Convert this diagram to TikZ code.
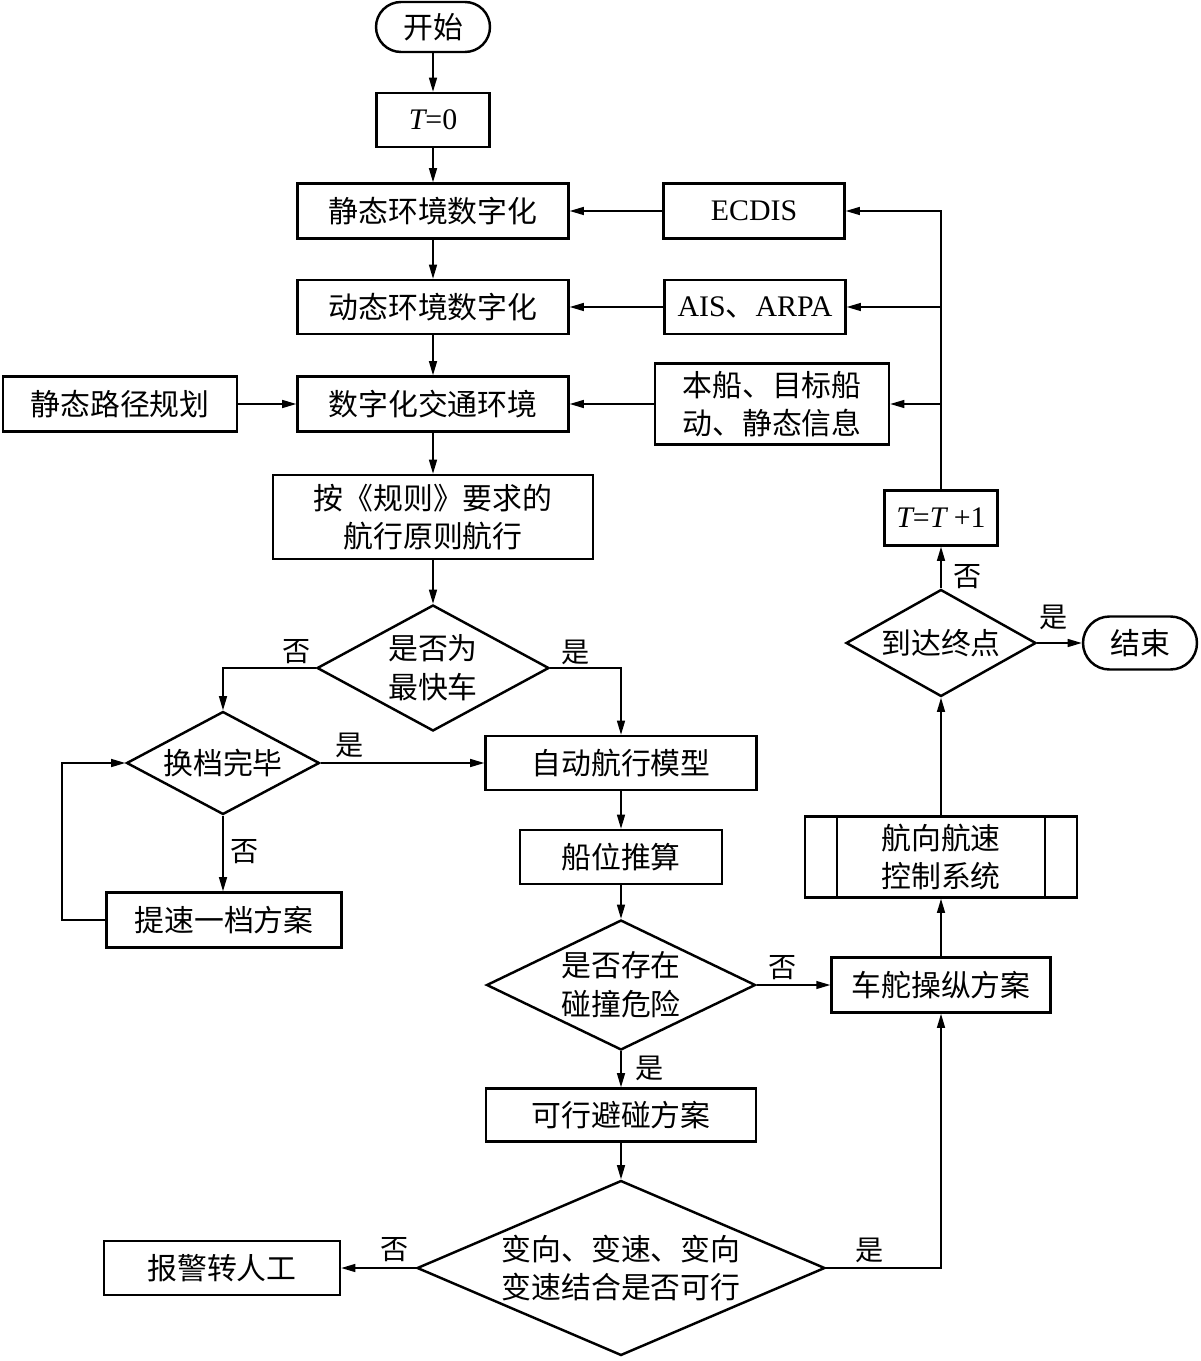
\documentclass[tikz,border=0pt]{standalone}
\usepackage{fontspec}
\setmainfont{Liberation Serif}
\newfontfamily\cjk{Noto Sans CJK SC}
\usetikzlibrary{shapes.geometric,arrows.meta}
\tikzset{
  base/.style={draw=black,line width=1.4pt,inner sep=0pt,align=center,
    font=\cjk\fontsize{17}{22}\selectfont},
  box/.style={base,rectangle},
  term/.style={base,rectangle,rounded corners=0.5cm},
  dia/.style={base,diamond},
  arr/.style={line width=0.9pt,-{Triangle[length=8pt,width=4.5pt]}},
  ln/.style={line width=0.9pt},
  lab/.style={font=\cjk\fontsize{16}{18}\selectfont,inner sep=0pt}
}
\begin{document}
\begin{tikzpicture}[x=0.02cm,y=-0.02cm]
\useasboundingbox[fill=white] (0,0) rectangle (1200,1361);
% nodes
\node[term,minimum width=2.28cm,minimum height=1.0cm] (start) at (433,27) {开始};
\node[box,minimum width=2.26cm,minimum height=1.08cm] (t0) at (433,120) {{\rmfamily\itshape T}{\rmfamily =0}};
\node[box,minimum width=5.42cm,minimum height=1.1cm] (static) at (433,211) {静态环境数字化};
\node[box,minimum width=5.42cm,minimum height=1.08cm] (dyn) at (433,307) {动态环境数字化};
\node[box,minimum width=5.42cm,minimum height=1.1cm] (traffic) at (433,404) {数字化交通环境};
\node[box,minimum width=4.68cm,minimum height=1.1cm] (plan) at (120,404) {静态路径规划};
\node[box,minimum width=3.62cm,minimum height=1.1cm] (ecdis) at (754,211) {\rmfamily ECDIS};
\node[box,minimum width=3.62cm,minimum height=1.08cm] (ais) at (755,307) {{\rmfamily AIS}、{\rmfamily ARPA}};
\node[box,minimum width=4.68cm,minimum height=1.62cm] (info) at (772,404) {本船、目标船\\动、静态信息};
\node[box,minimum width=2.26cm,minimum height=1.1cm] (tt1) at (941,518) {{\rmfamily\itshape T}{\rmfamily =}{\rmfamily\itshape T}{\rmfamily\ +1}};
\node[box,minimum width=6.4cm,minimum height=1.68cm] (rule) at (433,517) {按《规则》要求的\\航行原则航行};
\node[dia,aspect=1.84,minimum width=4.64cm,minimum height=2.52cm] (d1) at (433,668) {是否为\\最快车};
\node[dia,aspect=1.87,minimum width=3.86cm,minimum height=2.06cm] (d2) at (223,763) {换档完毕};
\node[box,minimum width=5.42cm,minimum height=1.08cm] (auto) at (621,763) {自动航行模型};
\node[box,minimum width=4.7cm,minimum height=1.1cm] (speed) at (224,920) {提速一档方案};
\node[box,minimum width=4.04cm,minimum height=1.08cm] (pos) at (621,857) {船位推算};
\node[dia,aspect=2.07,minimum width=5.38cm,minimum height=2.6cm] (d3) at (621,985) {是否存在\\碰撞危险};
\node[box,minimum width=4.38cm,minimum height=1.1cm] (helm) at (941,985) {车舵操纵方案};
\node[box,minimum width=5.44cm,minimum height=1.62cm] (sys) at (941,857) {航向航速\\控制系统};
\draw[line width=1.4pt] ([xshift=0.66cm]sys.north west) -- ([xshift=0.66cm]sys.south west);
\draw[line width=1.4pt] ([xshift=-0.66cm]sys.north east) -- ([xshift=-0.66cm]sys.south east);
\node[dia,aspect=1.78,minimum width=3.8cm,minimum height=2.14cm] (d5) at (941,643) {到达终点};
\node[term,minimum width=2.28cm,minimum height=1.06cm,rounded corners=0.53cm] (end) at (1140,643) {结束};
\node[box,minimum width=5.4cm,minimum height=1.06cm] (feas) at (621,1115) {可行避碰方案};
\node[dia,aspect=2.33,minimum width=8.16cm,minimum height=3.5cm] (d4) at (621,1268) {变向、变速、变向\\变速结合是否可行};
\node[box,minimum width=4.72cm,minimum height=1.08cm] (alarm) at (222,1268) {报警转人工};
% connectors
\draw[arr] (start) -- (t0);
\draw[arr] (t0) -- (static);
\draw[arr] (static) -- (dyn);
\draw[arr] (dyn) -- (traffic);
\draw[arr] (traffic) -- (rule);
\draw[arr] (rule) -- (d1);
\draw[arr] (d1.west) -| (d2.north);
\draw[arr] (d1.east) -| (auto.north);
\draw[arr] (d2.east) -- (auto.west);
\draw[arr] (d2.south) -- (speed.north -| d2.south);
\coordinate (lp) at (62,920);
\draw[arr] (speed.west) -- (lp) |- (d2.west);
\draw[arr] (auto) -- (pos);
\draw[arr] (pos) -- (d3);
\draw[arr] (d3.east) -- (helm.west);
\draw[arr] (d3.south) -- (feas.north);
\draw[arr] (feas) -- (d4);
\draw[arr] (d4.west) -- (alarm.east);
\draw[arr] (d4.east) -| (helm.south);
\draw[arr] (helm) -- (sys);
\draw[arr] (sys) -- (d5);
\draw[arr] (d5.east) -- (end.west);
\draw[arr] (d5.north) -- (tt1.south);
\draw[arr] (tt1.north) |- (ecdis.east);
\draw[arr] (tt1.north |- ais.east) -- (ais.east);
\draw[arr] (tt1.north |- info.east) -- (info.east);
\draw[arr] (ecdis.west) -- (static.east);
\draw[arr] (ais.west) -- (dyn.east);
\draw[arr] (info.west) -- (traffic.east);
\draw[arr] (plan.east) -- (traffic.west);
% labels
\node[lab] (l1) at (297,652) {否};
\node[lab] (l2) at (576,652) {是};
\node[lab] (l3) at (350,745) {是};
\node[lab] (l4) at (245,852) {否};
\node[lab] (l5) at (783,968) {否};
\node[lab] (l6) at (650,1068) {是};
\node[lab] (l7) at (395,1250) {否};
\node[lab] (l8) at (870,1250) {是};
\node[lab] (l9) at (968,577) {否};
\node[lab] (l10) at (1054,617) {是};
\end{tikzpicture}
\end{document}
